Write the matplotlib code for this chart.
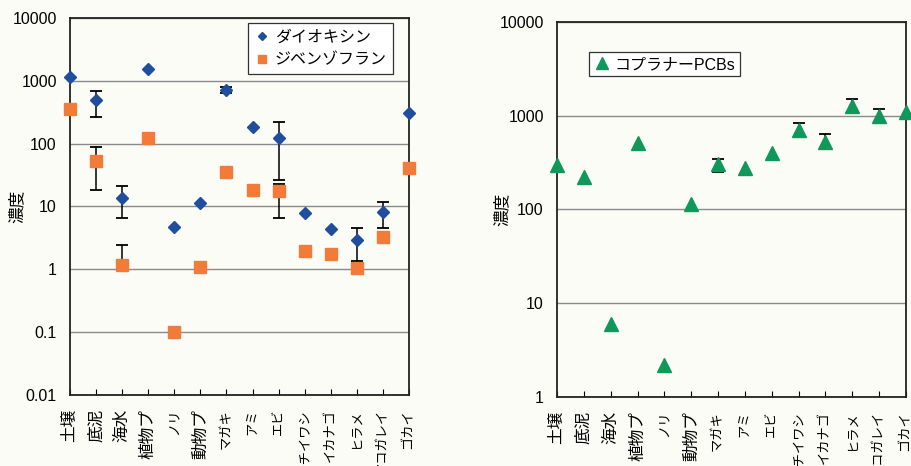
import matplotlib
matplotlib.use("Agg")
import matplotlib.pyplot as plt
import numpy as np
from matplotlib.ticker import FixedLocator, NullLocator
from matplotlib.transforms import ScaledTranslation

plt.rcParams['font.family'] = ['Liberation Sans', 'Noto Sans CJK JP', 'DejaVu Sans']

categories = ['土壌', '底泥', '海水', '植物プ', 'ノリ', '動物プ', 'マガキ', 'アミ',
              'エビ', 'カタクチイワシ', 'イカナゴ', 'ヒラメ', 'マコガレイ', 'ゴカイ']

# ダイオキシン
dioxin = [1160, 494, 13.5, 1540, 4.7, 11.2, 714, 186, 124, 7.85, 4.36, 2.88, 8.24, 310]
dioxin_low = [None, 268, 6.6, None, None, None, 640, None, 26.5, None, None, 1.35, 4.6, None]
dioxin_high = [None, 689, 21.4, None, None, None, 800, None, 221, None, None, 4.6, 11.6, None]

# ジベンゾフラン
furan = [355, 53, 1.17, 121, 0.1, 1.1, 35.7, 18.2, 17.6, 1.97, 1.75, 1.06, 3.3, 41.3]
furan_low = [None, 18.2, 1.0, None, None, None, 32, None, 6.6, None, None, 0.83, None, None]
furan_high = [None, 88, 2.4, None, None, None, 39, None, 22.5, None, None, 1.3, None, None]

# コプラナーPCBs
pcb = [295, 224, 6.0, 517, 2.2, 115, 309, 280, 404, 709, 530, 1277, 1000, 1100]
pcb_low = [None, None, None, None, None, None, 253, None, None, 598, 457, 1076, 843, None]
pcb_high = [None, None, None, None, None, None, 349, None, None, 843, 643, 1516, 1187, None]

left_ticks = [0.01, 0.1, 1, 10, 100, 1000, 10000]
left_ticklabels = ['0.01', '0.1', '1', '10', '100', '1000', '10000']
right_ticks = [1, 10, 100, 1000, 10000]
right_ticklabels = ['1', '10', '100', '1000', '10000']

BG = '#fcfcf6'
BLUE = '#1f4e9e'
ORANGE = '#f27b3a'
GREEN = '#10985a'

fig = plt.figure(figsize=(9.11, 4.66), dpi=100, facecolor=BG)
ax1 = fig.add_axes([0.0768, 0.1524, 0.3722, 0.809])
ax2 = fig.add_axes([0.6114, 0.148, 0.3831, 0.805])

x = np.arange(len(categories))


def is_kana_only(s):
    return all('\u30a0' <= ch <= '\u30ff' for ch in s)


def draw_err(ax, vals, low, high):
    idx = [i for i in range(len(vals)) if low[i] is not None]
    v = np.array([vals[i] for i in idx])
    lo = np.array([low[i] for i in idx])
    hi = np.array([high[i] for i in idx])
    ax.errorbar(idx, v, yerr=[v - lo, hi - v], fmt='none', ecolor='black',
                elinewidth=1.1, capsize=4, capthick=1.3, zorder=3)


def style_axes(ax, ticks, ticklabels, ylim):
    ax.set_facecolor(BG)
    ax.set_yscale('log')
    ax.set_ylim(*ylim)
    ax.set_xlim(0, len(categories) - 1)
    ax.yaxis.set_major_locator(FixedLocator(ticks))
    ax.yaxis.set_minor_locator(NullLocator())
    ax.set_yticklabels(ticklabels)
    ax.set_xticks(x)
    labels = ax.set_xticklabels(categories, rotation=90, va='top', ha='center')
    shift = ScaledTranslation(-3 / 100, 0, fig.dpi_scale_trans)
    for lab in labels:
        lab.set_fontsize(9.5 if is_kana_only(lab.get_text()) else 12)
        lab.set_transform(lab.get_transform() + shift)
    ax.tick_params(axis='y', length=0, pad=9.5, labelsize=11.5)
    ax.tick_params(axis='x', direction='in', length=4, width=0.8, pad=10)
    ax.grid(axis='y', which='major', color='#8a8a8a', linewidth=1.0)
    ax.set_axisbelow(True)
    for s in ax.spines.values():
        s.set_linewidth(1.3)
        s.set_color('#222222')
    ax.set_ylabel('濃度', fontsize=12)


# left panel
style_axes(ax1, left_ticks, left_ticklabels, (0.01, 10000))
ax1.yaxis.set_label_coords(-0.133, 0.5)
draw_err(ax1, dioxin, dioxin_low, dioxin_high)
draw_err(ax1, furan, furan_low, furan_high)
ax1.plot(x, furan, 's', color=ORANGE, ms=8.8, mec=ORANGE, label='ジベンゾフラン',
         zorder=4, clip_on=False)
ax1.plot(x, dioxin, 'D', color=BLUE, ms=6.3, mec=BLUE, label='ダイオキシン',
         zorder=5, clip_on=False)
h, l = ax1.get_legend_handles_labels()
leg1 = ax1.legend(h[::-1], l[::-1], loc='upper right', bbox_to_anchor=(0.953, 0.987),
                  borderaxespad=0, fontsize=11.5, markerscale=0.7, handletextpad=0.3,
                  handlelength=1.0, labelspacing=0.5, fancybox=False,
                  edgecolor='#333333', framealpha=1, facecolor='white')
leg1.get_frame().set_linewidth(0.9)

# right panel
style_axes(ax2, right_ticks, right_ticklabels, (1, 10000))
ax2.yaxis.set_label_coords(-0.135, 0.5)
draw_err(ax2, pcb, pcb_low, pcb_high)
ax2.plot(x, pcb, '^', color=GREEN, ms=10, mec=GREEN, label='コプラナーPCBs',
         zorder=4, clip_on=False)
leg2 = ax2.legend(loc='upper left', bbox_to_anchor=(0.092, 0.92), borderaxespad=0,
                  fontsize=11.5, markerscale=0.85, handletextpad=0.3, handlelength=1.0,
                  fancybox=False, edgecolor='#333333', framealpha=1, facecolor='white',
                  borderpad=0.3)
leg2.get_frame().set_linewidth(0.9)

fig.savefig('out.png', dpi=100, facecolor=BG)
